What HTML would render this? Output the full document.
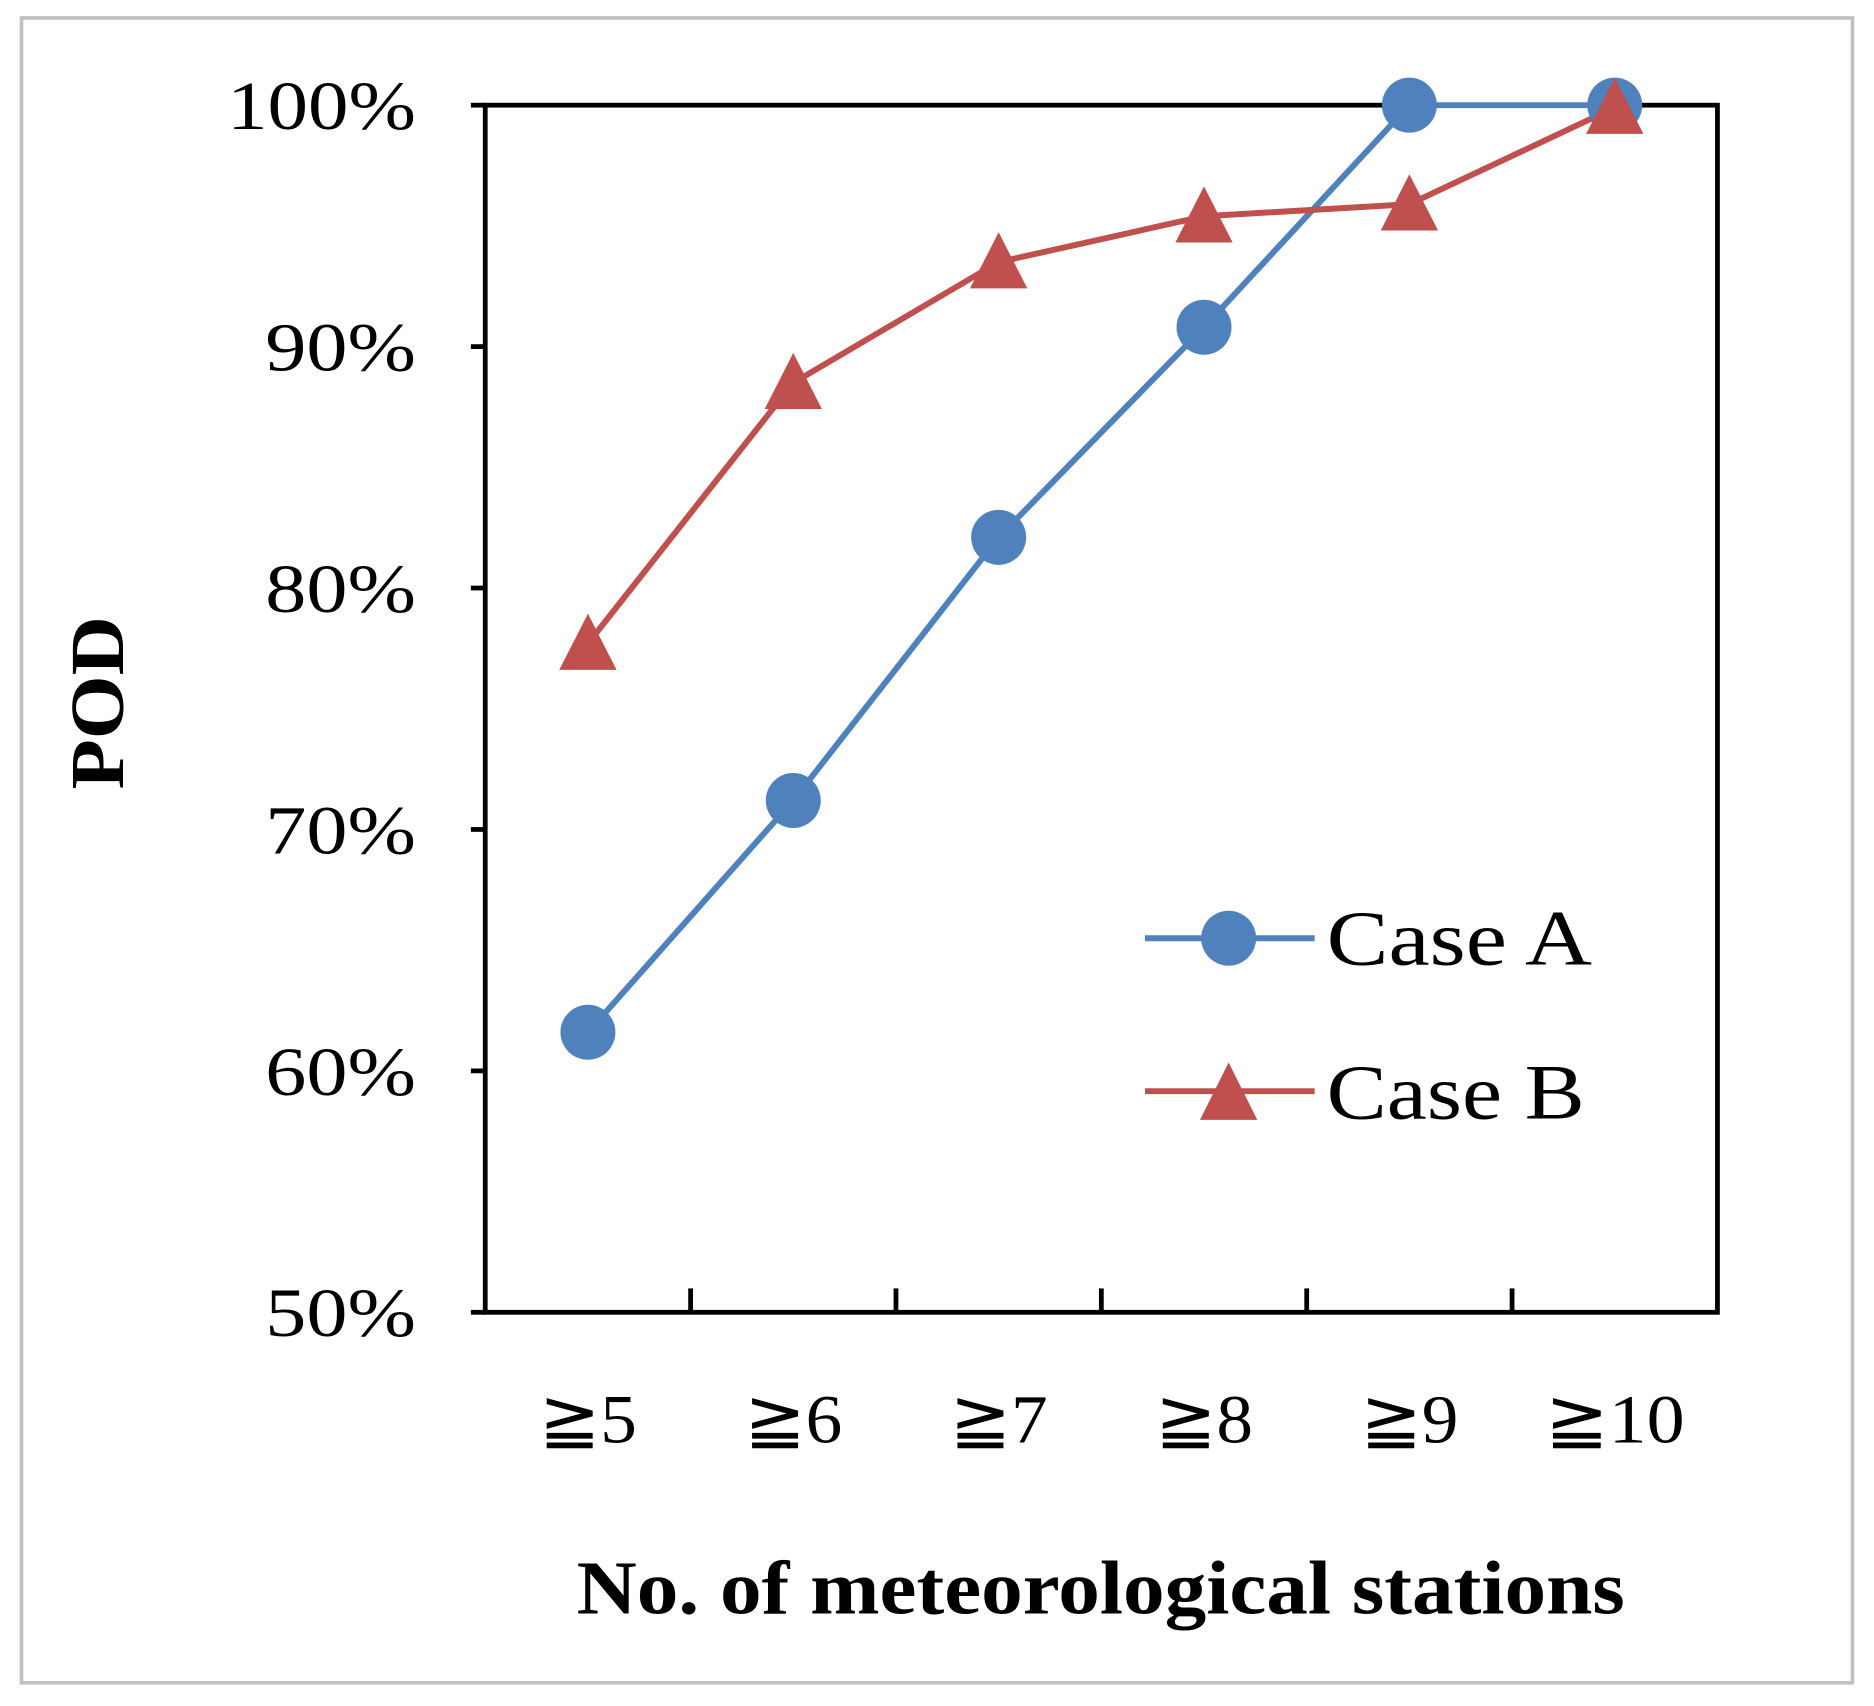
<!DOCTYPE html>
<html><head><meta charset="utf-8"><style>
html,body{margin:0;padding:0;background:#fff;}
svg{display:block;font-family:"Liberation Serif","DejaVu Serif",serif;}
</style></head><body>
<svg id="chart" width="1874" height="1706" viewBox="0 0 1568 1427.4" preserveAspectRatio="none" xmlns="http://www.w3.org/2000/svg">
<rect x="18" y="15" width="1532" height="1393" fill="#fff" stroke="#c0c0c0" stroke-width="3"/>
<g id="axes"></g>
<g id="series"></g>
<text transform="translate(103,588) rotate(-90)" text-anchor="middle" font-size="64" font-weight="bold" textLength="145" lengthAdjust="spacingAndGlyphs">POD</text>
<text x="921" y="1350" text-anchor="middle" font-size="64" font-weight="bold" textLength="877" lengthAdjust="spacingAndGlyphs">No. of meteorological stations</text>
<g>
<g>
<line x1="958" y1="785" x2="1100" y2="785" stroke="#4f81bd" stroke-width="5"/>
<circle cx="1028" cy="785" r="23" fill="#4f81bd"/>
<text x="1110" y="807" font-size="66" textLength="222" lengthAdjust="spacingAndGlyphs">Case A</text></g>
<g>
<line x1="958" y1="913" x2="1100" y2="913" stroke="#c0504d" stroke-width="5"/>
<polygon points="1028,889 1052,937 1004,937" fill="#c0504d"/>
<text x="1110" y="936" font-size="66" textLength="216" lengthAdjust="spacingAndGlyphs">Case B</text></g>
</g>
</svg>
<script>
const categories=["≧5","≧6","≧7","≧8","≧9","≧10"];
const caseA=[61.6,71.2,82.1,90.8,100,100];
const caseB=[77.7,88.5,93.5,95.4,95.9,99.9];
const yTicks=[50,60,70,80,90,100];
const yTickLabels=["50%","60%","70%","80%","90%","100%"];
const NS="http://www.w3.org/2000/svg";
const L=406,R=1437,T=88,B=1098,yMin=50,yMax=100;
const bw=(R-L)/categories.length;
const xs=i=>L+bw*(i+0.5);
const ys=v=>B-(v-yMin)/(yMax-yMin)*(B-T);
function mk(tag,attrs,parent){const e=document.createElementNS(NS,tag);for(const k in attrs)e.setAttribute(k,attrs[k]);parent.appendChild(e);return e;}
const ax=document.getElementById('axes');
const frame=mk('rect',{x:L,y:T,width:R-L,height:B-T,fill:'none',stroke:'#000','stroke-width':4},ax);


yTicks.forEach((v,i)=>{
 const t=mk('line',{x1:L-12,x2:L,y1:ys(v),y2:ys(v),stroke:'#000','stroke-width':4},ax);
 
 
 const lab=yTickLabels[i];
 const tx=mk('text',{x:348,y:ys(v)+20,'text-anchor':'end','font-size':58,textLength:lab.length>3?158:126,lengthAdjust:'spacingAndGlyphs'},ax);
 tx.textContent=lab;
 
 
});
categories.forEach((c,i)=>{
 if(i>0){const t=mk('line',{x1:L+bw*i,x2:L+bw*i,y1:B,y2:B-20,stroke:'#000','stroke-width':4},ax);
 
 }
 const tx=mk('text',{x:xs(i),y:1207,'text-anchor':'middle','font-size':58,textLength:c.length>2?117:82,lengthAdjust:'spacingAndGlyphs'},ax);
 tx.textContent=c;
 
 
});
const sg=document.getElementById('series');
const pa=mk('polyline',{points:caseA.map((v,i)=>xs(i)+','+ys(v)).join(' '),fill:'none',stroke:'#4f81bd','stroke-width':5},sg);


const pb=mk('polyline',{points:caseB.map((v,i)=>xs(i)+','+ys(v)).join(' '),fill:'none',stroke:'#c0504d','stroke-width':5},sg);


caseA.forEach((v,i)=>{
 const c=mk('circle',{cx:xs(i),cy:ys(v),r:23,fill:'#4f81bd'},sg);
 
 
});
caseB.forEach((v,i)=>{
 const x=xs(i),y=ys(v);
 const p=mk('polygon',{points:`${x},${y-25} ${x+24},${y+22} ${x-24},${y+22}`,fill:'#c0504d'},sg);
 
 
});
</script>
</body></html>
